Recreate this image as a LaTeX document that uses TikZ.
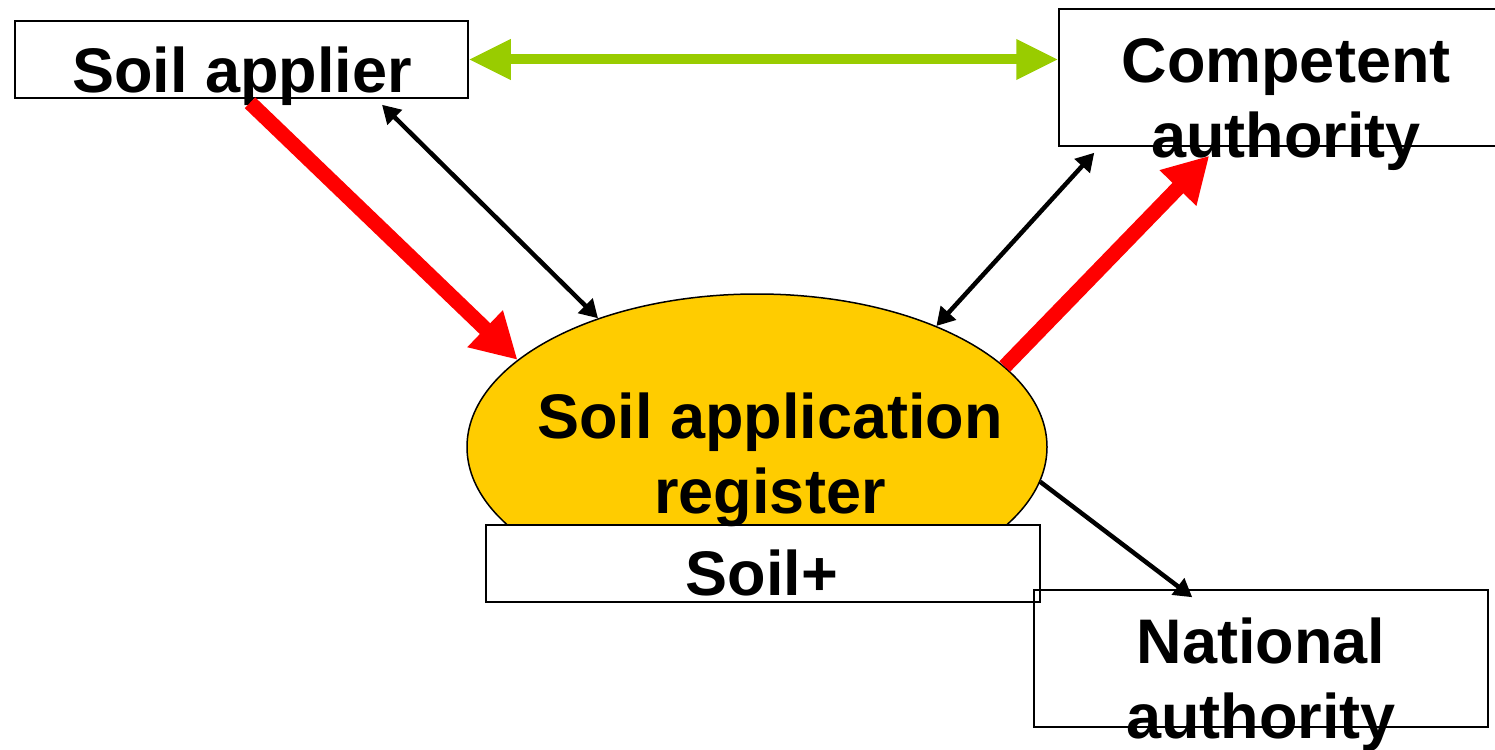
\documentclass[tikz,border=0pt]{standalone}
\usepackage{fontspec}
\setmainfont{Liberation Sans}
\usetikzlibrary{shapes.geometric,arrows.meta,calc}
\definecolor{regfill}{HTML}{FFCC00}
\definecolor{arrred}{HTML}{FF0000}
\definecolor{arrgreen}{HTML}{99CC00}
\tikzset{
  boxnode/.style={draw=black,line width=1.5pt,fill=white,rectangle,inner sep=0pt},
  lbl/.style={font=\fontsize{63}{75}\selectfont\bfseries,align=center,inner sep=0pt},
  redarrow/.style={draw=arrred,line width=15pt,-{Triangle[length=45pt,width=48pt]}},
  blackboth/.style={draw=black,line width=4.5pt,{Triangle[length=18pt,width=20pt]}-{Triangle[length=18pt,width=20pt]}},
  blackone/.style={draw=black,line width=4.5pt,-{Triangle[length=18pt,width=20pt]}},
  greenboth/.style={draw=arrgreen,line width=10pt,{Triangle[length=42pt,width=38pt]}-{Triangle[length=42pt,width=38pt]}},
}
\begin{document}
\begin{tikzpicture}[x=1pt,y=-1pt]
\useasboundingbox (0,0) rectangle (1495,749);
% shapes
\node[boxnode,minimum width=453pt,minimum height=77pt] (sa) at (241.5,59.5) {};
\node[boxnode,minimum width=454pt,minimum height=137pt] (ca) at (1286,77.5) {};
\node[draw=black,line width=1.5pt,fill=regfill,ellipse,inner sep=0pt,minimum width=580pt,minimum height=306pt] (reg) at (757,447) {};
\node[boxnode,minimum width=554pt,minimum height=77pt] (sp) at (763,563.5) {};
\node[draw=black,line width=1.5pt,rectangle,inner sep=0pt,minimum width=454pt,minimum height=137pt] (na) at (1261,658.5) {};
% texts
\node[lbl,anchor=base] (saT) at (242,93) {Soil applier};
\node[lbl] (caT) at (1286,105) {Competent\\authority};
\node[lbl] (regT) at (770,459.5) {Soil application\\register};
\node[lbl,anchor=base] (spT) at (762,595) {Soil+};
\node[lbl] (naT) at (1261,685) {National\\authority};
% connectors
\draw[greenboth] (sa.east) -- (sa.east -| ca.west);
\draw[redarrow] ($(sa.south)+(8.5,4)$) -- (reg.160.5);
\draw[blackboth] (reg.141.4) -- ($(sa.south)+(140.5,6)$);
\draw[blackboth] (reg.34.1) -- ($(ca.south west)+(36,6)$);
\draw[redarrow] (reg.18) -- ($(ca.south west)+(151,9)$);
\draw[blackone] (reg.-7.3) -- ($(na.north west)+(159,8)$);
\end{tikzpicture}
\end{document}
